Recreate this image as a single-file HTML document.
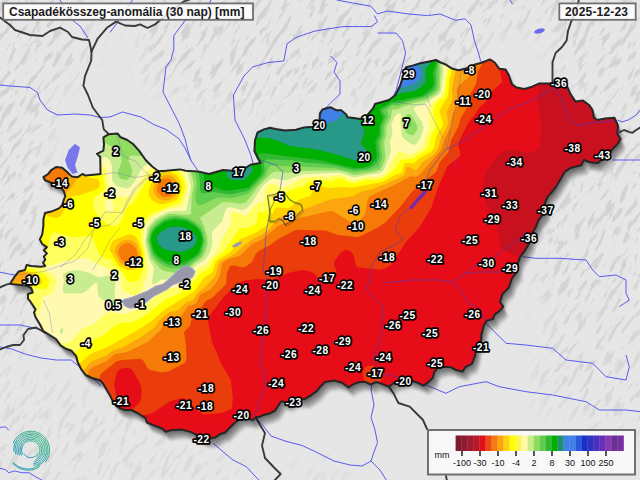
<!DOCTYPE html>
<html><head><meta charset="utf-8"><style>
html,body{margin:0;padding:0;width:640px;height:480px;overflow:hidden;background:#e6e6e6}
svg{display:block}
.lb text{font-family:"Liberation Sans",sans-serif;font-weight:bold;font-size:10.2px;letter-spacing:0.4px;fill:#fff;stroke:#000;stroke-width:3.4px;stroke-linejoin:round;paint-order:stroke;text-anchor:middle}
</style></head><body>
<svg width="640" height="480" viewBox="0 0 640 480">
<defs>
<path id="hup" d="M108.9,134.2 117.5,133.4 120.6,137.3 126.9,139.7 133,144 139,150.6 145.6,160 151.9,166.2 158,171 164,171 173.8,170 180,169.4 185.6,170.8 198,171.6 209,174 223,170 232.5,170.8 243.4,169.2 251,164.5 260.6,163 257.5,157.5 254.4,151 255,140.3 257.5,132.5 263.8,129.4 270,127.8 275.6,129 285,130.6 296,129.8 303.8,127.5 313,126.7 319.4,121.2 320,113.4 322.5,109.5 330.3,107.2 336.6,110.3 341.2,110.3 346,114.2 347.5,117.3 353.8,118 360,119 365.6,117.2 373.4,107.8 375,104 381.2,102.3 389,100 395.3,95.3 400,86 403,76.6 406,67.2 412.5,65.6 420.3,63.3 428,61.7 436,60 440.6,62.5 446.2,64.8 452.5,68.8 458.8,70.3 465,68.8 474.4,64.8 482.2,62.5 490,59.4 494.7,62.5 499.4,68.8 505.6,69.5 508.8,75 511.9,84.4 516.6,87.5 524.4,89 532.2,86.7 539.4,83.4 550.3,83.4 561.2,85.8 567.5,87.3 570.6,94.4 575.3,101.4 583,100.6 589.4,105.3 592.5,110 594,117.8 597.2,120 605,118.6 614.4,117.8 616.7,122.5 618,126.2 617.3,134 620.5,138.8 618,143.4 611.9,149.7 604,157.5 597.8,163 590,162.2 583.8,160 581.4,165.3 571.2,167.7 565,171.6 560.3,179.4 555.6,187.2 552,192 548,196.2 545,202.5 545,211.9 538.8,219.7 535.6,227.5 531,235.3 529.4,243 524.7,251 520,257.2 518,262.8 516.6,272.2 511.9,278.4 508.8,287.8 502.5,294 500,302 503.3,306.6 499.4,311.2 494.7,314.4 493,319 486.9,320.6 483.8,325.3 481.2,335.6 481.2,340.3 476.6,345 475,356 471.9,363.8 465.6,366.9 462.5,371.6 456.2,370 450,366.9 443.8,366.9 437.5,368.4 434.4,371.6 432.8,377.8 428,382.5 423.4,385.6 417.2,382.5 412.5,381 406.2,379.4 400,381.2 393.8,382.8 389,386.7 381.2,383.6 376.6,382 370.3,384.4 365.6,382 359.4,382 353,384.4 348.4,387.5 342.2,382.8 334.4,380.5 325,382 320.3,386.7 317.2,390.6 311,395.3 304.7,399.2 299,399 293.8,399 287.5,402.8 281.2,401.2 278,406 275,410.6 268.8,413.8 262.5,415.3 259.4,417 256.2,417 253,420 246.9,418.4 240.6,418.4 236,421.6 231.2,426.2 225,432.5 220.3,434 215.6,437.2 209.4,438.8 203,438.8 199,436 190.6,431.9 181.2,429.5 170.3,430.3 165.6,431.9 162.5,428.8 154.7,425.6 146.9,422.5 145.3,417.8 137.5,413 131.2,410 125,410 120.3,408.4 115.6,405.3 112.5,400.6 109.4,394.4 106.2,389 103,383.4 100,380.3 92,378 85.6,375 81,368.8 77.8,362.5 76.2,356.2 71.6,350.8 65.3,348.4 60.6,345.3 56,339 49.7,335 43.4,331.2 40.3,325 35.6,317.2 34,312.5 35.6,309.4 32.5,304.7 30,301 28,298.8 28,294 32.8,292.5 31.2,287.8 26.6,285.5 18.8,284.7 11,284 11,282.3 15.6,275.3 18.8,271.4 25,270 26.6,265 31.2,266 40.6,266.7 45.3,266 43,262.8 45.3,259.7 43.8,256.6 46.9,253.4 43.8,250.3 46.9,247.2 42.2,244 39.8,239.4 42.2,234.7 43.4,225.6 43.4,219.4 45,213 51.2,211.6 59,208.4 62.2,205.3 63.8,199.8 65.3,196 63.8,191.2 60.6,187.3 52.8,183.4 45,180.3 43.4,177.2 48.1,174 51.2,170.2 56,167 62.2,167.8 66.9,171.7 71.6,176.4 77.8,177.2 82.5,174 85.6,175.6 93.4,174.8 100.5,174 100.3,157 97,153.8 103.4,150.6 104,144.4 103.4,137.3Z"/>
<clipPath id="hu"><use href="#hup"/></clipPath>
<filter id="sh" x="-10%" y="-10%" width="120%" height="120%"><feGaussianBlur stdDeviation="1.2"/></filter>
</defs>
<rect width="640" height="480" fill="#e6e6e6"/>

<defs>
<filter id="terr" x="-500" y="-500" width="1700" height="1500" filterUnits="userSpaceOnUse" color-interpolation-filters="sRGB">
<feTurbulence type="fractalNoise" baseFrequency="0.055 0.2" numOctaves="3" seed="7"/>
<feColorMatrix type="matrix" values="0 0 0 0 0.8  0 0 0 0 0.8  0 0 0 0 0.8  -5 0 0 0 2.6"/>
<feComponentTransfer><feFuncA type="discrete" tableValues="0 0 0.3 0.55 0.75"/></feComponentTransfer>
</filter>
<filter id="mblur" x="-50%" y="-50%" width="200%" height="200%"><feGaussianBlur stdDeviation="14"/></filter>
<mask id="tmask" maskUnits="userSpaceOnUse" x="0" y="0" width="640" height="480">
<rect width="640" height="480" fill="#000"/>
<g filter="url(#mblur)">
<path d="M-20,-20 L95,-20 L90,60 L60,90 L50,130 L45,200 L40,340 L-20,360 Z" fill="#fff"/>
<path d="M140,-20 L660,-20 L660,120 L600,110 L560,90 L550,30 L490,30 L470,70 L400,90 L330,105 L260,120 L220,105 L140,80 Z" fill="#fff"/>
<path d="M540,150 L660,110 L660,350 L560,330 L530,280 Z" fill="#fff"/>
<path d="M-20,360 L100,390 L200,440 L250,470 L250,500 L-20,500 Z" fill="#999"/>
<path d="M545,300 L660,290 L660,440 L600,430 L530,400 Z" fill="#ccc"/>
<path d="M280,470 L330,450 L360,470 L340,500 L270,500 Z" fill="#666"/>
</g>
</mask>
</defs>
<g mask="url(#tmask)"><g transform="rotate(-58 320 240)"><rect x="-500" y="-500" width="1700" height="1500" fill="#fff" filter="url(#terr)"/></g></g>

<g fill="none" stroke="#5a5af2" stroke-width="1" stroke-linejoin="round"><path d="M0,85 L10,86 L30,87.5 L37.5,92.5 L40,100 L47.5,110 L57.5,115 L75,114 L90,115 L100,117.5 L110,117 L122.5,112 L141,117 L154,124.7 L166,129.4 L179,138.8 L185,148 L191,160.6 L197.5,170"/><path d="M60,0 L66,12 L72,20 L80,26 L88,38"/><path d="M132.5,0 L117.5,22.5 L110,32.5"/><path d="M211,0 L205.6,11 L185,20.6 L173.8,35.6 L173.8,48.8 L171,60 L166,67 L163,92 L172.5,110.6 L179,123 L185,138.8 L188,151 L191,160.6"/><path d="M374.4,15.6 L377.5,21.9 L371,26.6 L343,26.6 L315,31 L296,37.5 L287,43.8 L283.8,61 L268,62.5 L252.5,67 L244,76 L233.4,95 L235,120 L244.4,138.8 L250.6,154.4 L253,163"/><path d="M337,0 L352.5,3 L371,6.2 L377.5,14 L387,11 L409,14 L427.5,15.6 L440,14 L455.6,20.3 L465,18.8 L471,25 L474.4,40.6 L479,54.7 L480.6,61 L483,63"/><path d="M330.6,56 L337,62.5 L334,72 L340,81 L340,94 L330.6,103 L321,112.5"/><path d="M377.5,33 L396,33 L402.5,40.6 L405.6,53 L399.4,78 L396,90.6 L390,103 L385,104"/><path d="M510,0 L512.5,4"/><path d="M617.5,120 L622,122 L628.8,119.7 L636.2,115 L641,109.4"/><path d="M522.7,256.7 L536,258.3 L559.3,258.3 L586,260 L592.7,270 L599.3,276.7 L616,275 L626,280 L626,293.3 L629.3,300 L619.3,306.7"/><path d="M612.7,160 L641,160"/><path d="M486,323.3 L506,343.3 L526,345 L552.7,348.3 L566,360 L592.7,363.3 L606,376.7 L626,380 L629.3,366.7 L626,355"/><path d="M417,382.5 L426,385 L446,393.3 L459.3,386.7 L486,381.7 L499.3,386.7 L526,391.7 L552.7,395 L586,401.7 L599.3,410 L626,410 L641,411.7"/><path d="M254.7,417 L258.8,420.6 L265,428 L271,436 L285,441 L302.5,445.6 L318,453 L334,461 L350,465 L362,466 L371,461 L380,470 L387,481"/><path d="M372,384 L371,389 L374,405 L371,417.5 L375,430 L377.5,442.5 L374,452 L371,461"/><path d="M213,443.3 L233,460 L246.3,466.7 L259.7,481"/><path d="M-1,346.8 L11.2,348.8 L26.2,354.4 L41.2,358 L56.2,360 L71.2,360 L82.5,369.4 L93.8,378.8 L101,386"/><path d="M-1,325 L20,325 L27.8,326.6 L40.3,329.7"/><path d="M-1,427.5 L5.8,426.8 L8.7,430.4"/><path d="M-1,468 L5.8,469.8 L8.7,472.7 L14.6,471 L21.9,472.7 L29,472.7 L36,477 L43.7,481"/><path d="M-1,272 L15.6,275.3"/></g>
<path d="M75,143.8 L80,147.5 L77.5,157.5 L75,165 L77.5,172.5 L72.5,174 L67.5,167.5 L65,160 L68.8,150Z" fill="#7878ea"/><ellipse cx="539.5" cy="31" rx="5.5" ry="2.3" fill="#6a6af0" transform="rotate(-15 539.5 31)"/><g fill="none" stroke="#3a3a3a" stroke-width="1.9" stroke-linejoin="round" stroke-linecap="round"><path d="M0,17.5 L10,25 L15,30 L30,35 L42.5,36 L50,31 L60,27.6 L68,32 L72,37 L82,39.5 L89,40 L91.5,51.5"/><path d="M91.5,51.5 L97.5,38.8 L106.9,27.8 L116.2,21.6 L125,25.5 L135,26 L140,24.4 L147.5,28 L155,24.4 L160.6,19.7 L170,12 L183,1.9 L190.6,-1"/><path d="M91.5,51.5 L91.2,60.6 L85,76.2 L83.4,85.6 L88,95 L92.8,107.5 L97.5,113.8 L102.2,120 L103.8,129.4 L108.9,134.2"/><path d="M552.5,83.4 L552.5,62.5 L555.6,53 L562,47 L566.6,40.6 L568,31 L571,22 L574,15.6 L577.5,6.2 L579,-1"/><path d="M620,132 L624,130 L628.8,131.9 L632.5,132.8 L636.2,130 L641,127"/><path d="M389,386.7 L393.8,393.8 L398.4,403 L409.7,406.7 L423,420 L427,429"/><path d="M446,476 L447,481"/><path d="M255.5,417 L260,425 L265,433 L262,445.6 L265,458 L274,467.5 L280.6,474 L274,481"/><path d="M45,332.8 L36,327.5 L28,329 L23.5,335 L24,340 L20,345 L13,345 L6,347 L-1,350"/><path d="M11,283.5 L6.2,284.7 L-1,287.8"/></g>

<g filter="url(#sh)"><use href="#hup" fill="#000" fill-opacity="0.075" transform="translate(0.50,0.90)"/><use href="#hup" fill="#000" fill-opacity="0.075" transform="translate(1.00,1.80)"/><use href="#hup" fill="#000" fill-opacity="0.075" transform="translate(1.50,2.70)"/><use href="#hup" fill="#000" fill-opacity="0.075" transform="translate(2.00,3.60)"/><use href="#hup" fill="#000" fill-opacity="0.075" transform="translate(2.50,4.50)"/><use href="#hup" fill="#000" fill-opacity="0.075" transform="translate(3.00,5.40)"/><use href="#hup" fill="#000" fill-opacity="0.075" transform="translate(3.50,6.30)"/><use href="#hup" fill="#000" fill-opacity="0.075" transform="translate(4.00,7.20)"/><use href="#hup" fill="#000" fill-opacity="0.075" transform="translate(4.50,8.10)"/><use href="#hup" fill="#000" fill-opacity="0.075" transform="translate(5.00,9.00)"/><use href="#hup" fill="#000" fill-opacity="0.075" transform="translate(5.50,9.90)"/></g>
<g clip-path="url(#hu)">
<rect x="0" y="40" width="640" height="420" fill="#8f1b2d"/><path fill="#c8101e" fill-rule="evenodd" d="M640,458 0,458 -0,40 640,40 640,458Z"/>
<path fill="#e60c18" fill-rule="evenodd" d="M640,458 0,458 -0,40 536.2,40 535.9,68 538.3,82 538.3,102 541.1,126 540.2,146 536.9,150 532,152.9 528,153.2 510,149.5 504,151.3 496,156.8 487.6,170 484.1,178 483.3,190 484,198 490,211.9 496,218 500.2,248 508,251.3 522.1,260 534,269.9 544,272.3 558,281.7 560,282 610,332 612,332 618,336 622,336 624,338 626,338 636,344 640,344 640,458Z"/>
<path fill="#eb3c0c" fill-rule="evenodd" d="M52,458 -0,458 0,40 514,40 514,50 512.1,54 512,60 510,62 508,62.2 500,70.2 502,82 489.4,94 485.7,102 479,108 475.6,114 468.8,122 458.7,142 458.4,146 460.2,152 460.1,156 447.6,166 437.8,188 431.2,208 419,228 405.9,242 392,264 386,268.1 380,269.7 358,267.3 356,265.6 353.1,254 350,251.1 346,249.7 341.6,252 335.2,260 333.7,264 336.3,270 336.3,274 333.6,280 330,283.5 326,283.4 322,281.5 314,273.2 308,270.7 302,269.9 288,273 272,279.9 256,279 244,280.8 240,282.4 230.6,290 222,298.9 209.2,316 207.9,320 211.9,342 222,365 230.8,380 232.8,398 232,408.5 222,413 204,414.5 196,409.4 186,398.9 182,398.1 170,401.3 152,413.3 130,418.4 126,418 127.9,414 140.1,402 141.5,396 141.4,388 139.4,382 132,369.6 128,368.1 122,368.3 118.6,370 117.2,372 113.9,384 120.4,416 120,419.9 118,423.8 114,428 112.7,428 112,429.7 106,430 98,422 104,421.7 105.7,414 105.2,408 102,403.7 98,401.9 95.6,402 92,405.8 91.1,412 92,421.8 96,422 88,430 86,430 76,440 74,440 64,450 62,450 54,458 52,458ZM378,382.5 372,383.6 365.9,382 364,379.2 362.7,374 363.5,370 366,366.7 370,365.4 374,365.7 379.5,370 383.3,378 382.1,380 378,382.5ZM148,444 128,444 126,442 126.8,434 128,433.9 128.6,432 135.7,426 140,424.7 142,425.2 144.7,428 149.7,440 149.7,442 148,444Z"/>
<path fill="#f57a08" fill-rule="evenodd" d="M28,458 -0,458 0,40 486,40 485.8,48 483.4,62 478,70.9 476,84 469.3,96 468.2,106 460.7,118 458.6,126 451.2,140 448.4,152 439.8,162 436,172 411.7,192 402,204.7 386,222 377.1,228 358,237.3 338,235 326,230.6 296,229.8 280,237.9 270,245 258,251.4 255.7,254 251.9,262 246,266.4 242,267.6 234,265.3 230,266.2 226.6,274 226.3,284 212,298 206,301.1 200.8,308 192.8,314 190,326 184,332 186.1,346 186.5,358 185.5,362 184,363.5 168,371.6 162,372.6 150,369.9 147.6,368 142.9,360 140,358.8 120,360.3 116,361.7 100.7,374 99.7,378 101.5,388 100.9,392 92,392.1 85.1,408 82,412.2 28,458Z"/>
<path fill="#fca60f" fill-rule="evenodd" d="M24,458 -0,458 0,184.4 36,192.7 56,195.5 66.3,186 70.4,168 72.4,146 71.7,140 68,129.2 44.9,76 30.7,40 471.2,40 471.1,64 470,74 468,77.9 460,84.4 457.4,88 456.7,92 458.5,102 452.6,114 450.2,128 445.2,138 441,150 420,174.5 416,176.8 410,176.2 400.6,182 369.8,196 367.4,200 365.2,214 360,220.5 356,223.5 352,223 334,211.8 330,210.9 292,219.7 278,226 262,239.4 252,243.9 239.5,256 228,259.2 224,261.5 222,264 219.8,276 216.8,282 210,290 200.6,294 196,303.4 188,306.3 182,315.3 180,316.4 172,316.3 168,318.1 164.6,322 160.6,330 147.7,342 126.9,352 114.7,354 106,361.3 94,366.6 90,369.4 87.8,374 88.4,382 86.5,388 85.4,398 81.4,408 77.8,412 34,448 24,458ZM170.4,196 174.6,190 174.3,184 170,178.8 164,178.3 161.1,180 157.9,184 156.7,190 158.9,194 162,196.4 166,197.1 170.4,196ZM132.9,262 135.6,260 137.2,256 137.1,252 135.5,248 134,245.9 130,243.6 126,243.4 122,244.9 119.3,248 118.1,252 120.2,258 124.2,262 128,262.8 132.9,262Z"/>
<path fill="#ffd000" fill-rule="evenodd" d="M22,458 -0,458 0,284.8 32,280.6 33.7,280 33.7,278 29.5,274 24.6,272 6,265.9 0,265.1 0,186.4 24,193.2 47.2,198 50,204 52,204.8 56,202.3 71.1,188 75.8,180 76.5,176 74.5,164 74.8,148 73.9,142 32.1,40 450.5,40 450.8,46 455.6,70 452.1,88 452.6,100 446.8,112 447.9,122 447.3,126 440.9,138 438.4,148 434,154.3 422,162.7 416,170.4 408,166.5 406,167.7 405,174 403.2,176 384,184.6 374,188.5 362,191.5 352,196.4 330,199.6 306,208.6 294,214.8 278,217.7 270.3,228 266,231.9 250,240.9 242,246.9 235,254 220,261.5 218.5,264 215.4,276 204.2,288 198.7,292 192.9,300 186,302.6 178,310.5 170,312.1 166,314.4 159.9,320 154,327.9 142,336.6 122,347.7 114,350.1 106,355.5 92,361.4 88.6,364 83.9,370 82.5,374 84.4,384 83,398 80,406.3 74.5,412 32,446.9 24,454.3 22,458ZM168.9,200 175.5,196 178.4,190 178.6,186 176.2,180 174,177.4 170,175.2 166,174.8 162,176.1 158,179.9 154,186 153.3,190 154.7,194 158,198 164,200.4 168.9,200ZM356,215.1 352,215.2 348.9,212 352,209.1 358,207.8 359.1,210 358.7,212 356,215.1ZM128.7,266 136,263.8 138.7,260 140.1,254 136,243.3 132,240.6 126,240 122,241 118,243.9 115.5,248 114.8,252 120,262.5 124,265.3 128.7,266Z"/>
<path fill="#ffff00" fill-rule="evenodd" d="M2,422.6 0,423.5 0,287.1 28,283.4 40,284.9 42.5,282 41,278 34,273.3 6,263.7 0,263 0,189.1 15.4,194 44,214.1 50,216.8 56,218 60.8,216 66.8,206 68.6,200 72,196.2 80,195 96,189.5 98.5,188 100,184 98,179.1 88,177.4 86,175.6 84.2,168 86.3,160 85.8,158 78,146.9 74,138.6 33.1,40 448.6,40 448.8,48 452.5,70 449.8,78 448,96.2 441.7,106 439.4,112 442.7,122 442.7,126 436.3,136 434,148 430.8,152 419.9,158 414,163.3 406,163.1 404,163.9 402,172.6 394,175.5 382,181.9 352,187.7 342,187 328,188 320,185.5 316,185.7 313.2,188 311.6,194 310,195.9 298,199.9 290,207.6 286,208.2 278,207.3 276,208.1 274,210.1 268.8,222 266,225.9 256,232.4 240,239.3 230.6,252 217.5,260 215.8,262 212.5,272 203.7,278 197,288 192,293.1 166,308.4 150,322 140,328.6 109.5,346 90,354.3 80,363.3 78,363.9 72,362.2 68,363.2 2,422.6ZM165,204 176.3,200 179.3,196 181.9,188 180.8,182 177.5,176 174,173.5 168,171.5 162,172.6 158,175.8 151.1,184 148.5,190 148.9,196 151.5,200 158,203.7 165,204ZM132.5,270 136,268.6 138.9,266 142.5,254 138,240.2 136,237.1 132,234.7 128,234.3 114,240 110.7,244 109.6,250 119,266 128,270.3 132.5,270Z"/>
<path fill="#ffff60" fill-rule="evenodd" d="M2,382.2 0,383.1 0,289.9 8,287.7 28,285.7 44,289.8 47.3,288 49.6,282 49.4,280 46,276.1 36,270.1 26,268.2 6,261.6 0,260.9 0,236.5 22,242.9 36,248.6 38,248.9 42,247 46,248.9 48,247.5 50.6,236 54,232.2 74,237.2 90,235.8 93.8,240 98.2,252 101.1,256 104,258 112,260.1 114,266 122.5,272 128,281.3 134,282.5 138,280.3 140,277.6 143.6,268 144.6,254 141.2,242 140.3,228 141.7,222 152,213.2 179.9,202 184.9,188 184.7,184 182.5,178 178.3,172 170,168.5 162,168.7 150,174.9 134,201.5 126,208.4 121.8,220 119.2,224 116,225.9 112,225.9 100,219.3 95.2,212 92.7,204 94.1,198 103.8,190 104.4,186 103.1,176 102,174 96,171.9 93.8,170 89.8,158 76,139.9 34.2,40 447.3,40 446.1,60 450.1,68 447.3,76 445.8,92 444.4,96 436.1,104 434,108.4 433.2,114 436.6,126 430.8,136 429.1,146 426.3,150 412,158.8 400.3,160 395.7,168 387,176 380,179.5 376,180.3 366,180 354,183.5 350,182.8 340,178.2 330,181.3 318,180.1 308,181.7 304,186.2 296,188 284,193 274.8,194 271.9,202 266,211.8 258,212.5 256.5,222 255.2,224 248.2,228 240,228.3 223.5,252 213.4,260 209.7,268 200.1,274 188,288.6 176,295.6 166,298.9 148,313.6 138,320 132,322.3 120,323.2 116,325.1 102,336 86,343 76,352 72,352.9 56,346 52,346.7 2,382.2ZM239.5,220 238,219 238,220.6 239.5,220Z"/>
<path fill="#fffab0" fill-rule="evenodd" d="M68,342.9 62,343.1 48.1,338 46,333.7 39.3,332 40,326 38.4,324 30.7,322 32,321.6 38,312.5 42,304 42.7,298 44,296.5 51.4,294 56.1,284 56.4,280 55.4,278 45.8,270 44.3,268 45.7,266 54,264.7 64,261.4 86,257.6 100,265.3 118,273 120,276 122,289 124,291.7 134,295.6 138,295.5 142,290.1 148.8,270 146.4,260 146.2,252 143.2,242 144.5,226 151.4,218 162,211.7 168,209.3 182.9,206 187.8,188 187.8,184 184,173 180,168.8 172,165.5 162,165.1 150,168.7 146,171.2 138,186 130,196.4 126,197.3 112,195.4 107.7,182 106.9,170 100,162.9 94,159.7 76,137.2 35.4,40 446.2,40 442.6,62 443.2,64 447.1,68 447,70 444.8,76 443.4,92 440.7,96 432.8,102 430.3,106 428.7,114 429.9,128 426,136 423,146 419.3,150 412,154.5 408,155.3 400,150.6 398,152 392,161 386,172.6 382,175.7 378,177 366,177.1 354,180.5 350,179.6 342,175.3 338,174.9 328,177 320,176.4 304,177.5 288,185.8 282,187.9 272.8,184 270,184 267.4,186 265,190 263.8,200 262,202 256,203.8 246,216 236,212 232,212.4 230.5,216 231.1,222 230.1,226 221.4,240 216.8,252 210,259.1 206,265 198,268.2 194,275.1 186,282.7 176,287.8 164,289.3 144,306.1 136,310.6 124,314.2 110,312.1 106,313.3 94,324 82,328.6 72,340.1 68,342.9ZM112,211.4 108,211 105.1,206 106,201.1 110,197.5 112,200.3 113.6,206 113.2,210 112,211.4ZM26,334 22,330 22,328 24,328 25.1,326 26,326 26,334ZM34,338.2 32,338.2 30,340 28,338 34,338.2Z"/>
<path fill="#c8ec90" fill-rule="evenodd" d="M154,284.5 152.7,284 152,282 154,268 149.1,260 145,242 147.1,228 154,219.3 166,212.4 176,210.8 184,211.3 186.6,210 191,186 187.5,172 184,167.3 178,163.6 168,161.7 160,161.8 146,165.3 142,167.8 134.5,182 130,187.3 126,188.4 116,185.8 112,179.7 111.9,166 109.6,160 106,157.3 96,156.7 94,155.6 80,139.8 76,133.7 37,40 445.3,40 441.1,62 443.8,70 441,92 438,95.1 424,104.6 417.2,106 413.9,108 416,114 422,122 423.7,128 420,139.1 416,144.4 412,144.6 404,139.1 402,136.4 400.4,122 401.2,114 398,113.7 395.1,116 391.4,124 392.5,134 389.8,142 391,148 390.3,154 384,170 380,173.3 366,174.9 354,177.6 340,172.7 320,173.4 302,174.5 286,180.2 282,180.3 274,178.3 270,179.4 262.5,186 250.9,204 246,208.9 242,209.9 230,207.1 226,209 222,221.4 212,231.7 212.4,244 209.2,254 204,260.7 194.8,266 190,273.5 184,277 176,279.6 162,279.5 154,284.5ZM114,304 106.1,302 99.9,298 97.9,294 97.4,284 96,282.3 86,291.3 82,293.4 64,293.4 62.5,290 63.9,282 63.1,274 68,271.3 78,270.1 90,272.9 98,277.5 110,275.3 114,275.8 115.8,280 114.5,294 115.6,302 114,304ZM62,334.4 59.8,332 60,329.6 62,327.4 63.7,330 62,334.4Z"/>
<path fill="#90dc60" fill-rule="evenodd" d="M180,272.3 172,272.5 164,270.7 160,268.5 150.9,258 146.6,240 148.8,230 150.9,226 156,220.7 162,216.9 170,213.8 188,214.9 191.1,214 191.7,196 194,184 190,168.7 184,162.5 178,159.6 132,155.3 130,156 128.2,160 132.5,170 131.3,176 128,179.6 126,180.2 120,178.5 118.3,176 117.6,172 121.8,162 120.8,156 118,151.5 114,147.9 102,141 98,140 94,132.9 88,126 88,124 86,122 84,116 78,106 77.9,102 72,92 71.4,88 56.1,56 52,46 52,40 444.5,40 439.9,62 440.8,70 439.5,90 436,94 426,99.9 409.9,104 398,109.1 391.9,110 390.9,118 386.5,126 386.3,134 384.1,142 385.5,158 382.6,166 380,169.4 374.1,172 354,174.9 344,171.5 336,170.4 298,171 288,172.7 276,171.6 272,172.7 258.6,186 246,202.4 240,203.8 228,202.1 222,202.5 200,217.8 204.7,228 207.3,238 207.6,244 205.5,252 202,258 194,263.4 188,269.8 180,272.3ZM178,70 178,72 178,70ZM168,120 170,118 176,118 178,116 180,116 180,110 182,108 182,90 184,88 184,86 182,84 182,80 180,78 180,74 178,72 178,76 176,78 176,84 174,86 174,92 172,94 172,100 170,102 170,106 168,108 168,114 166,116 166,120 168,120ZM414,134.5 412,135.3 408,134.3 406,132.1 404,126.4 403.4,120 406,115.4 408,114 410,114.3 412,116.3 417.4,126 417,130 414,134.5Z"/>
<path fill="#60cc50" fill-rule="evenodd" d="M202,204.7 198,204.9 196,202.1 195.3,196 197,184 196.6,180 193.8,168 187.4,158 182,155.7 150,149.4 145.7,148 143.4,146 144.9,144 153.1,140 188,128.4 191.7,124 193.3,118 193.8,106 195.6,96 195,84 194,78 181.9,40 443.8,40 438.6,64 438.2,86 436.8,90 432.5,94 425.6,98 408,102.2 398,105.8 392,105.6 386.6,110 388.6,116 383.7,126 383.8,134 380.8,144 382.4,158 380,163.8 376.2,168 370,170.3 354,172.3 334,167.9 272,165.4 270,165.9 268.7,168 265.5,176 248,194 232,197.9 218,197.2 202,204.7ZM410,126.7 408,126.1 406.9,124 406.7,122 408,120 410,121 411.4,124 410,126.7ZM184,268 172,268.6 164,266.6 155.5,260 151.5,254 148.1,240 150.7,230 157.8,222 168,216.4 178,215.8 190,218.4 200,225.5 203.4,232 205.4,242 202,254 198.6,258 188,266.2 184,268Z"/>
<path fill="#30b830" fill-rule="evenodd" d="M230,194.4 214,192.1 202,193.5 200,190 199.9,180 195.9,162 196.4,154 192,152 166,146.5 160.6,144 161.1,142 164.2,140 190,130 193.8,126 195.6,120 198.1,96 197.7,90 196,79.9 183.3,40 443.1,40 442.4,46 435.5,72 436.1,84 433.8,90 424,96.8 398,103.3 392,103.5 382.4,110 382.4,112 385.4,116 381.5,126 381.1,136 378.1,142 379.7,156 378,160.7 373.5,166 366,169 354,170 334,165.3 320,163.5 306,162.6 292,160.3 266,159.2 263.7,162 264.8,170 263.9,174 250,189.1 246,191.3 230,194.4ZM186,264.5 182,265.5 168,265.1 160,260.7 153.4,254 149.8,242 150.6,234 154,228 164,220.2 174,217.6 186,219.2 194,223.2 200.8,230 203.7,240 200.9,252 198,256 186,264.5Z"/>
<path fill="#00b000" fill-rule="evenodd" d="M232,190.3 224,190.6 206,184 204,179.2 202,164 203.1,160 207.5,152 206.7,150 183.3,144 178.7,142 177.7,140 179.4,138 194.2,130 203.9,118 200.2,92 184.5,40 442.4,40 439.7,54 432.8,72 433.8,84 432,88.3 422,95.7 391.4,102 381,108 379.3,110 382.5,118 379.4,126 379.3,134 375.2,142 376.9,156 375,160 370,165.3 364,167.5 354,168 320,160.3 262,152.9 259,154 258.4,156 262,170 259.6,176 248,187.7 232,190.3ZM184,262.5 166,261.4 158,256.1 154,251 150.9,240 152,234 156,228.2 166,221.2 176,219.4 186,220.9 196,226.8 200.3,232 202.2,238 202.3,242 198.9,252 194,256.8 184,262.5Z"/>
<path fill="#289888" fill-rule="evenodd" d="M364,160.1 354,160.3 338,154.7 316,149.2 290,146 275.4,140 268,138.1 260,137.4 250,138.3 245.2,136 242.9,134 243.1,130 253.9,116 250,114.4 238,116.5 224,113.2 220,110.5 210,96.7 203.8,86 188.5,40 438.9,40 438,46.7 434,58.9 426,68 425.2,82 420,87.7 414,91 402,93 388,96.9 364.4,108 357.6,114 357.6,118 360.7,122 364.1,132 360.9,144 366,149.1 368.1,154 366.9,158 364,160.1ZM357.1,84 372.4,78 374.8,76 374.2,74 352,53.6 346,50.7 346.1,68 348.3,82 350,84.5 352,84.9 357.1,84ZM244,180 232,179.8 228.1,178 227.1,176 226,168 226.6,164 230,160.2 238,155 240,154.7 242.8,158 248,160.9 252,168 252,172 244,180ZM188,250.3 180,251.9 166,249.9 162,247.7 158.5,244 156.9,240 157.3,236 160.6,232 168,227.7 176,226.6 186,228.1 194,233.2 196.7,238 196.4,242 194.2,246 188,250.3Z"/>
<path fill="#4080e8" fill-rule="evenodd" d="M324,124 300,122.3 295.7,120 297.2,116 302,110 314.9,98 310,95.7 298,96.4 293.3,92 286,79.8 281.6,70 277.1,54 274.8,40 339.6,40 339,46 342.4,60 345.4,86 347.4,88 350,88.4 358,86.7 376,80.6 379.9,78 380.1,76 377.3,72 369.5,66 355.3,52 340.5,40 407.7,40 410,47.3 420.7,70 421,76 418,80.6 412,85 392,90.1 358,105 344.7,112 336,120.2 324,124Z"/>
</g>
<g clip-path="url(#hu)"><g fill="none" stroke="#3c3cd8" stroke-opacity="0.55" stroke-width="1" stroke-linejoin="round"><path d="M253,163 L259.7,160 L276,165 L283,171.7 L280,190 L270,210 L266,233 L264.7,253 L263,270 L266.7,276.7 L266.7,303 L263,336.7 L260,363 L262.5,370 L265.6,379 L264,390 L259.4,401 L254.7,417"/><path d="M617,121 L592.5,122.5 L580,125.6 L572,122.5 L566,111.6 L561,99 L555,87 L534,100 L509,109 L487,125 L465,140 L445,150 L430,170 L424,186"/><path d="M410,207 L400,217 L395,230 L403,238 L395,245 L380,252 L373,263 L367,290 L383,307 L380,340 L373,360 L380,373 L372,384"/><path d="M383,283 L413,280 L440,280 L452.5,282 L465,273.8 L477.5,272 L502.5,272 L518,263 L522.7,256.7"/><path d="M452.5,282 L463.4,294 L468,303.4 L476,306.6 L482,314.4 L487,323"/><path d="M465,273.8 L476,264.4 L492.7,258 L510,246 L526,232"/><path d="M380,373 L410,380 L417,382.5"/></g>
<g fill="none" stroke="#6060c0" stroke-opacity="0.4" stroke-width="0.8" stroke-linejoin="round"><path d="M15.6,275.3 L43.8,271.4 L59.4,266 L75,261 L87.5,249 L93.8,230 L105,212 L122.5,212.5 L135,190 L150,176"/><path d="M60,267.5 L75,255 L85,240 L95,227.5 L110,225 L122.5,212.5 L127.5,200 L135,187.5 L150,175"/><path d="M97.5,175 L115,172.5 L135,177.5 L150,175 L165,172"/><path d="M120,227.5 L110,240 L102.5,255 L92.5,270"/><path d="M43.4,300 L49.7,314 L51.2,325 L52.8,332.8"/><path d="M461,70 L459,90 L455,110 L450,130 L447,150"/><path d="M116,133.8 L118.8,140 L121,150 L123.8,156 L128.8,158.8 L135,161 L138.8,165 L142.5,168.8 L146,172.5 L150,175"/><path d="M393.5,101.4 L413,104.7 L426,104.7 L430.6,113.5 L441.6,135.3 L452.5,155 L458,170"/><path d="M426,72 L426,93.8 L430.6,107"/><path d="M371.6,120 L362.8,137.5 L373.8,155 L380,170"/></g>
<path d="M267.5,195.6 L275,194.4 L278.8,192 L286,194.4 L288.8,198.8 L293.8,202 L301.2,204.4 L302.5,210 L297.5,215 L291.2,221.2 L285,225 L282.5,220 L278.8,218.8 L275,221.2 L268.8,221.2 L270,213.8 L268.8,205Z" fill="none" stroke="#000" stroke-width="1.2" stroke-opacity="0.18" transform="translate(1,1.5)"/><path d="M267.5,195.6 L275,194.4 L278.8,192 L286,194.4 L288.8,198.8 L293.8,202 L301.2,204.4 L302.5,210 L297.5,215 L291.2,221.2 L285,225 L282.5,220 L278.8,218.8 L275,221.2 L268.8,221.2 L270,213.8 L268.8,205Z" fill="none" stroke="#3a3a3a" stroke-width="0.9" stroke-opacity="0.85"/><path d="M122,301 L124.5,305.8 L129.5,308.2 L137.7,307.4 L145.9,302.5 L154,296 L160.6,292.7 L167,289.4 L172,285.3 L180,282 L188.5,280.4 L193.4,276.3 L195,271.3 L191.8,268 L185.2,265.6 L177,271.3 L170.5,278 L162.3,284.5 L155.7,286 L147.5,291 L139.3,294.3 L131.1,297.6 L124.5,299.2Z" fill="#9898aa" stroke="#a4a4d8" stroke-width="1"/><path d="M232,246 L236,243 L241,241.5 L242,243 L238,246.5 L233,247.5Z" fill="#9c9cae"/><path d="M427.5,184 L424,190 L418,197 L412,204 L409,208 L412,209.5 L418,202 L425,195 L429.5,187Z" fill="#7a2aa8"/></g>
<path d="M108.9,134.2 117.5,133.4 120.6,137.3 126.9,139.7 133,144 139,150.6 145.6,160 151.9,166.2 158,171 164,171 173.8,170 180,169.4 185.6,170.8 198,171.6 209,174 223,170 232.5,170.8 243.4,169.2 251,164.5 260.6,163 257.5,157.5 254.4,151 255,140.3 257.5,132.5 263.8,129.4 270,127.8 275.6,129 285,130.6 296,129.8 303.8,127.5 313,126.7 319.4,121.2 320,113.4 322.5,109.5 330.3,107.2 336.6,110.3 341.2,110.3 346,114.2 347.5,117.3 353.8,118 360,119 365.6,117.2 373.4,107.8 375,104 381.2,102.3 389,100 395.3,95.3 400,86 403,76.6 406,67.2 412.5,65.6 420.3,63.3 428,61.7 436,60 440.6,62.5 446.2,64.8 452.5,68.8 458.8,70.3 465,68.8 474.4,64.8 482.2,62.5 490,59.4 494.7,62.5 499.4,68.8 505.6,69.5 508.8,75 511.9,84.4 516.6,87.5 524.4,89 532.2,86.7 539.4,83.4 550.3,83.4 561.2,85.8 567.5,87.3 570.6,94.4 575.3,101.4 583,100.6 589.4,105.3 592.5,110 594,117.8 597.2,120 605,118.6 614.4,117.8 616.7,122.5 618,126.2 617.3,134 620.5,138.8 618,143.4 611.9,149.7 604,157.5 597.8,163 590,162.2 583.8,160 581.4,165.3 571.2,167.7 565,171.6 560.3,179.4 555.6,187.2 552,192 548,196.2 545,202.5 545,211.9 538.8,219.7 535.6,227.5 531,235.3 529.4,243 524.7,251 520,257.2 518,262.8 516.6,272.2 511.9,278.4 508.8,287.8 502.5,294 500,302 503.3,306.6 499.4,311.2 494.7,314.4 493,319 486.9,320.6 483.8,325.3 481.2,335.6 481.2,340.3 476.6,345 475,356 471.9,363.8 465.6,366.9 462.5,371.6 456.2,370 450,366.9 443.8,366.9 437.5,368.4 434.4,371.6 432.8,377.8 428,382.5 423.4,385.6 417.2,382.5 412.5,381 406.2,379.4 400,381.2 393.8,382.8 389,386.7 381.2,383.6 376.6,382 370.3,384.4 365.6,382 359.4,382 353,384.4 348.4,387.5 342.2,382.8 334.4,380.5 325,382 320.3,386.7 317.2,390.6 311,395.3 304.7,399.2 299,399 293.8,399 287.5,402.8 281.2,401.2 278,406 275,410.6 268.8,413.8 262.5,415.3 259.4,417 256.2,417 253,420 246.9,418.4 240.6,418.4 236,421.6 231.2,426.2 225,432.5 220.3,434 215.6,437.2 209.4,438.8 203,438.8 199,436 190.6,431.9 181.2,429.5 170.3,430.3 165.6,431.9 162.5,428.8 154.7,425.6 146.9,422.5 145.3,417.8 137.5,413 131.2,410 125,410 120.3,408.4 115.6,405.3 112.5,400.6 109.4,394.4 106.2,389 103,383.4 100,380.3 92,378 85.6,375 81,368.8 77.8,362.5 76.2,356.2 71.6,350.8 65.3,348.4 60.6,345.3 56,339 49.7,335 43.4,331.2 40.3,325 35.6,317.2 34,312.5 35.6,309.4 32.5,304.7 30,301 28,298.8 28,294 32.8,292.5 31.2,287.8 26.6,285.5 18.8,284.7 11,284 11,282.3 15.6,275.3 18.8,271.4 25,270 26.6,265 31.2,266 40.6,266.7 45.3,266 43,262.8 45.3,259.7 43.8,256.6 46.9,253.4 43.8,250.3 46.9,247.2 42.2,244 39.8,239.4 42.2,234.7 43.4,225.6 43.4,219.4 45,213 51.2,211.6 59,208.4 62.2,205.3 63.8,199.8 65.3,196 63.8,191.2 60.6,187.3 52.8,183.4 45,180.3 43.4,177.2 48.1,174 51.2,170.2 56,167 62.2,167.8 66.9,171.7 71.6,176.4 77.8,177.2 82.5,174 85.6,175.6 93.4,174.8 100.5,174 100.3,157 97,153.8 103.4,150.6 104,144.4 103.4,137.3Z" fill="none" stroke="#262626" stroke-width="2" stroke-linejoin="round"/>
<g class="lb">
<text x="60" y="187">-14</text>
<text x="116" y="155">2</text>
<text x="155" y="180.5">-2</text>
<text x="170.5" y="192">-12</text>
<text x="208.5" y="189.5">8</text>
<text x="239" y="175.5">17</text>
<text x="296.5" y="171.5">3</text>
<text x="316" y="190">-7</text>
<text x="68.5" y="208">-6</text>
<text x="110" y="197">-2</text>
<text x="279.5" y="200.5">-5</text>
<text x="289.5" y="220">-8</text>
<text x="95" y="227">-5</text>
<text x="138.5" y="227">-5</text>
<text x="185.5" y="240">18</text>
<text x="60" y="246">-3</text>
<text x="134" y="265.5">-12</text>
<text x="176.5" y="264">8</text>
<text x="30.5" y="283.5">-10</text>
<text x="70.5" y="282.5">3</text>
<text x="114.5" y="279">2</text>
<text x="185" y="288">-2</text>
<text x="113.5" y="309">0.5</text>
<text x="140.5" y="308">-1</text>
<text x="240" y="292.5">-24</text>
<text x="200" y="317.5">-21</text>
<text x="233" y="315.5">-30</text>
<text x="319.5" y="129">20</text>
<text x="368" y="124">12</text>
<text x="406.5" y="127">7</text>
<text x="364.5" y="160.5">20</text>
<text x="409" y="77.5">29</text>
<text x="470" y="74">-8</text>
<text x="482.5" y="97.5">-20</text>
<text x="463.5" y="105">-11</text>
<text x="483.5" y="122.5">-24</text>
<text x="559" y="86.5">-36</text>
<text x="514.5" y="165.5">-34</text>
<text x="572.5" y="151.5">-38</text>
<text x="602.5" y="159">-43</text>
<text x="425" y="189">-17</text>
<text x="489" y="196.5">-31</text>
<text x="510" y="209">-33</text>
<text x="545.5" y="214">-37</text>
<text x="492" y="222.5">-29</text>
<text x="354" y="214">-6</text>
<text x="379" y="207.5">-14</text>
<text x="356" y="230">-10</text>
<text x="308.5" y="245">-18</text>
<text x="529" y="242">-36</text>
<text x="470" y="243.5">-25</text>
<text x="435" y="263">-22</text>
<text x="486.5" y="266.5">-30</text>
<text x="510" y="271.5">-29</text>
<text x="387" y="261">-18</text>
<text x="274" y="275">-19</text>
<text x="327" y="281.5">-17</text>
<text x="270.5" y="289">-20</text>
<text x="312.5" y="294">-24</text>
<text x="345" y="289">-22</text>
<text x="172.5" y="325.5">-13</text>
<text x="261" y="334">-26</text>
<text x="306" y="331.5">-22</text>
<text x="407.5" y="319">-25</text>
<text x="393" y="329">-26</text>
<text x="472.5" y="318">-26</text>
<text x="430" y="336.5">-25</text>
<text x="343" y="344.5">-29</text>
<text x="320.5" y="354">-28</text>
<text x="481" y="350.5">-21</text>
<text x="86" y="346.5">-4</text>
<text x="171.5" y="361">-13</text>
<text x="289" y="357.5">-26</text>
<text x="383.5" y="360.5">-24</text>
<text x="353" y="370.5">-24</text>
<text x="435" y="366.5">-25</text>
<text x="375.5" y="376.5">-17</text>
<text x="403.5" y="385">-20</text>
<text x="206" y="391.5">-18</text>
<text x="276" y="386.5">-24</text>
<text x="121" y="405">-21</text>
<text x="184" y="409">-21</text>
<text x="205" y="410">-18</text>
<text x="293.5" y="405.5">-23</text>
<text x="241.5" y="418.5">-20</text>
<text x="201.5" y="443">-22</text>
</g>
<g font-family="Liberation Sans, sans-serif" font-size="9" fill="#111"><rect x="428" y="430" width="207" height="44.5" fill="#ffffff" fill-opacity="0.72" stroke="#707070" stroke-width="2"/><rect x="455.6" y="435.5" width="6.2" height="15.5" fill="#7d1c30"/><rect x="461.6" y="435.5" width="6.2" height="15.5" fill="#8e1b2f"/><rect x="467.6" y="435.5" width="6.2" height="15.5" fill="#a31a2c"/><rect x="473.6" y="435.5" width="6.2" height="15.5" fill="#b8182a"/><rect x="479.6" y="435.5" width="6.2" height="15.5" fill="#e01018"/><rect x="485.6" y="435.5" width="6.2" height="15.5" fill="#ea4a18"/><rect x="491.6" y="435.5" width="6.2" height="15.5" fill="#f57a10"/><rect x="497.6" y="435.5" width="6.2" height="15.5" fill="#fca60f"/><rect x="503.6" y="435.5" width="6.2" height="15.5" fill="#ffd010"/><rect x="509.6" y="435.5" width="6.2" height="15.5" fill="#ffff00"/><rect x="515.6" y="435.5" width="6.2" height="15.5" fill="#fff550"/><rect x="521.6" y="435.5" width="6.2" height="15.5" fill="#fffaa8"/><rect x="527.6" y="435.5" width="6.2" height="15.5" fill="#c8ec88"/><rect x="533.6" y="435.5" width="6.2" height="15.5" fill="#90dc60"/><rect x="539.6" y="435.5" width="6.2" height="15.5" fill="#60cc50"/><rect x="545.6" y="435.5" width="6.2" height="15.5" fill="#30b830"/><rect x="551.6" y="435.5" width="6.2" height="15.5" fill="#00b000"/><rect x="557.6" y="435.5" width="6.2" height="15.5" fill="#209070"/><rect x="563.6" y="435.5" width="6.2" height="15.5" fill="#4080e8"/><rect x="569.6" y="435.5" width="6.2" height="15.5" fill="#4080e8"/><rect x="575.6" y="435.5" width="6.2" height="15.5" fill="#2858d8"/><rect x="581.6" y="435.5" width="6.2" height="15.5" fill="#1830c8"/><rect x="587.6" y="435.5" width="6.2" height="15.5" fill="#3030c0"/><rect x="593.6" y="435.5" width="6.2" height="15.5" fill="#4830c0"/><rect x="599.6" y="435.5" width="6.2" height="15.5" fill="#6830b8"/><rect x="605.6" y="435.5" width="6.2" height="15.5" fill="#8838b0"/><rect x="611.6" y="435.5" width="6.2" height="15.5" fill="#683090"/><rect x="617.6" y="435.5" width="6.2" height="15.5" fill="#7830a0"/><rect x="461" y="451" width="2" height="5" fill="#555"/><text x="462" y="465.8" text-anchor="middle">-100</text><rect x="479" y="451" width="2" height="5" fill="#555"/><text x="480" y="465.8" text-anchor="middle">-30</text><rect x="497" y="451" width="2" height="5" fill="#555"/><text x="498" y="465.8" text-anchor="middle">-10</text><rect x="515" y="451" width="2" height="5" fill="#555"/><text x="516" y="465.8" text-anchor="middle">-4</text><rect x="533" y="451" width="2" height="5" fill="#555"/><text x="534" y="465.8" text-anchor="middle">2</text><rect x="551" y="451" width="2" height="5" fill="#555"/><text x="552" y="465.8" text-anchor="middle">8</text><rect x="569" y="451" width="2" height="5" fill="#555"/><text x="570" y="465.8" text-anchor="middle">30</text><rect x="587" y="451" width="2" height="5" fill="#555"/><text x="588" y="465.8" text-anchor="middle">100</text><rect x="605" y="451" width="2" height="5" fill="#555"/><text x="606" y="465.8" text-anchor="middle">250</text><text x="434.5" y="457.8">mm</text></g>

<rect x="3.2" y="3.4" width="249.8" height="16.4" fill="#fff" fill-opacity="0.82" stroke="#6e6e6e" stroke-width="1.8"/>
<text x="9" y="15.6" font-family="Liberation Sans, sans-serif" font-weight="bold" font-size="12" fill="#1a1a1a">Csapadékösszeg-anomália (30 nap) [mm]</text>
<rect x="559.3" y="3.4" width="76.4" height="16.4" fill="#fff" fill-opacity="0.82" stroke="#6e6e6e" stroke-width="1.8"/>
<text x="565" y="15.6" font-family="Liberation Sans, sans-serif" font-weight="bold" font-size="12" fill="#1a1a1a" textLength="63" lengthAdjust="spacing">2025-12-23</text>

<defs><linearGradient id="lg" x1="0" y1="1" x2="1" y2="0"><stop offset="0" stop-color="#1f8fc8"/><stop offset="1" stop-color="#35b878"/></linearGradient></defs><g fill="none" stroke="url(#lg)" stroke-width="0.95"><path d="M37.7,453.2 A7.6,7.6 0 0 1 24.2,453.8"/><path d="M22.7,454.6 A9.3,9.3 0 1 1 36.8,457.1"/><path d="M21.4,455.4 A10.9,10.9 0 1 1 35.4,459.9"/><path d="M19.5,455.3 A12.5,12.5 0 1 1 34.0,462.1"/><path d="M17.6,454.8 A14.1,14.1 0 1 1 33.2,463.9"/><path d="M15.6,454.1 A15.7,15.7 0 1 1 33.5,465.5"/><path d="M13.6,451.5 A17.3,17.3 0 1 1 36.7,466.3"/><path d="M13.0,443.5 A18.9,18.9 0 1 1 45.3,462.1"/><path d="M39.4,464.9 L37.6,466.2 L35.7,467.2 L33.6,468.1 L31.3,468.6 L29.0,468.9 L26.6,468.9 L24.2,468.6 L21.8,467.9 L19.5,467.0 L17.2,465.7 L15.1,464.2 L13.2,462.3"/><path d="M40.1,466.1 L38.2,467.4 L36.1,468.5 L33.8,469.4 L31.4,469.9 L28.9,470.2 L26.3,470.1 L23.8,469.7 L21.3,469.0 L18.8,468.0 L16.5,466.6 L14.3,464.9 L12.3,463.0"/></g>
</svg>
</body></html>
